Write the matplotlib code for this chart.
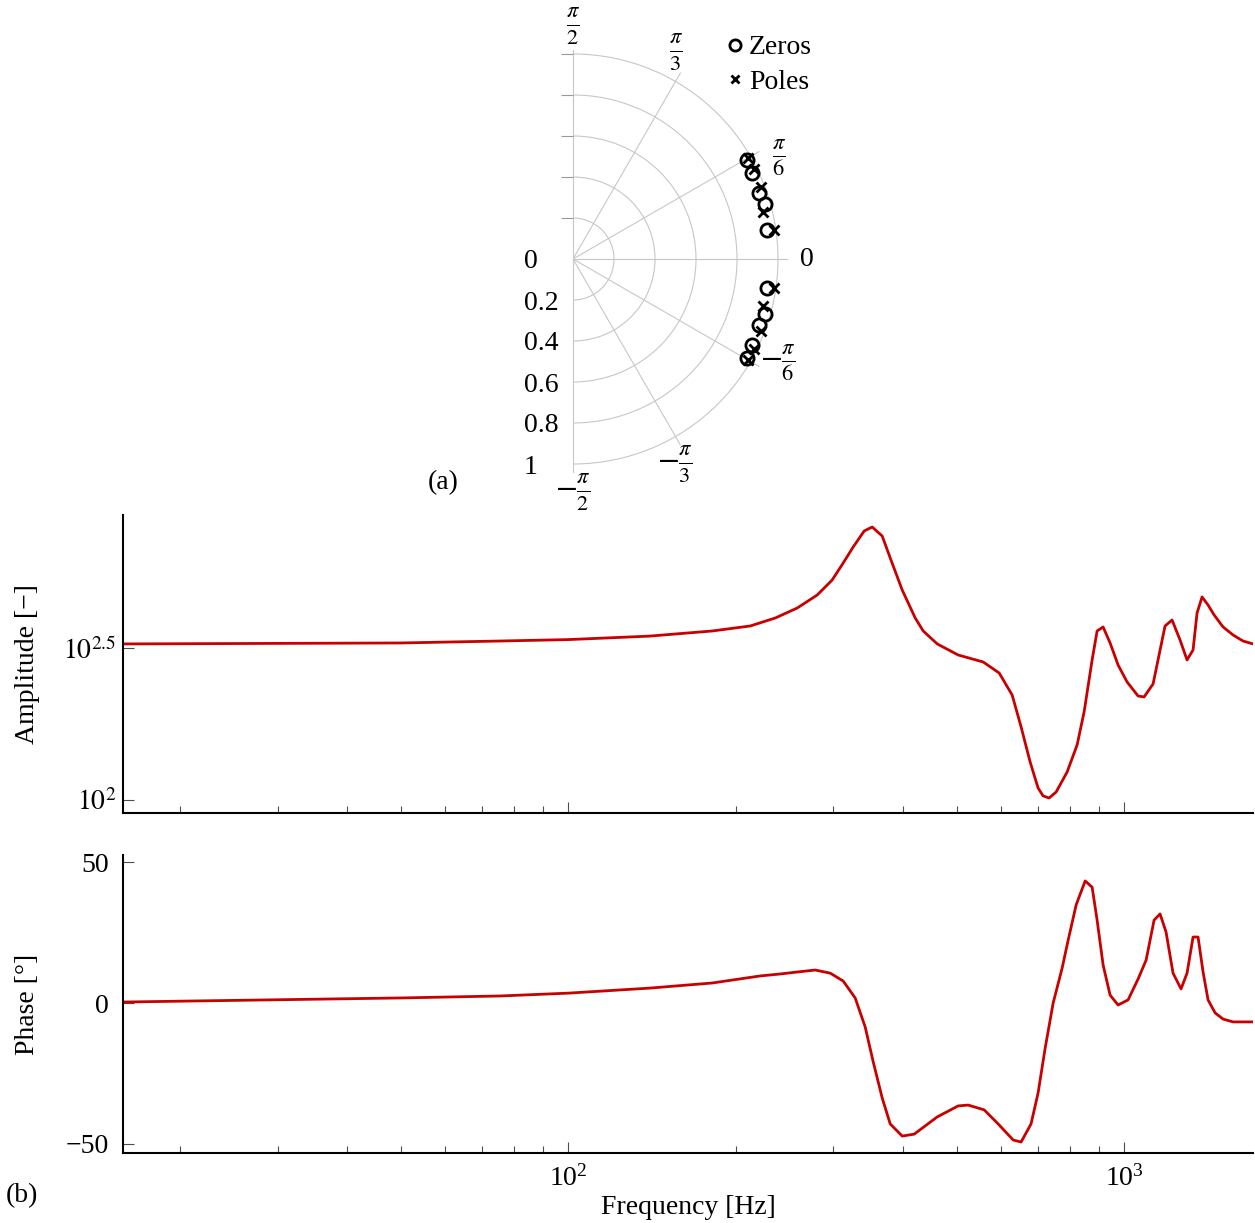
import numpy as np
import matplotlib
matplotlib.use("Agg")
import matplotlib.pyplot as plt
from matplotlib import transforms
from matplotlib.ticker import LogLocator, NullFormatter, NullLocator

plt.rcParams['font.family'] = ['Liberation Serif', 'DejaVu Serif']
plt.rcParams['mathtext.fontset'] = 'stix'
plt.rcParams['font.size'] = 20

# zeros and poles, upper half plane (lower half is the conjugate)
zero_angle_deg = [29.6, 25.5, 19.5, 16.1, 8.4]
zero_radius = [0.978, 0.970, 0.964, 0.975, 0.959]
pole_angle_deg = [30.0, 26.5, 21.0, 14.0, 8.1]
pole_radius = [0.985, 0.985, 0.984, 0.956, 0.990]

r_ticks = [0.2, 0.4, 0.6, 0.8, 1.0]
r_labels = ['0', '0.2', '0.4', '0.6', '0.8', '1']
theta_ticks_deg = [-90, -60, -30, 0, 30, 60, 90]
theta_labels = [r'$-\frac{\pi}{2}$', r'$-\frac{\pi}{3}$', r'$-\frac{\pi}{6}$', '0',
                r'$\frac{\pi}{6}$', r'$\frac{\pi}{3}$', r'$\frac{\pi}{2}$']

# frequency response
freq_amp = [15.8, 50, 75.5, 100, 140, 181.5, 212.5, 235.7, 258.2, 280.4, 298.4,
            312.3, 325.5, 340.7, 352.2, 367.1, 379.5, 398.8, 420.9, 435.1, 461.1,
            502.8, 557.8, 596.0, 628.9, 652.7, 677.5, 700.3, 715.0, 733.0, 754.6,
            789.8, 823.2, 847.4, 876.0, 894.3, 916.8, 943.7, 975.5, 1012.5, 1059.7,
            1086.4, 1127.7, 1185.0, 1219.9, 1261.0, 1298.1, 1330.8, 1353.1, 1381.4,
            1416.2, 1452.0, 1507.2, 1570.5, 1636.9, 1706.1]
amplitude = [326.1, 328.5, 333.4, 337.0, 346.0, 359.7, 373.6, 396.9, 428.1, 472.4, 529.4,
             602.0, 679.6, 767.2, 790.7, 738.5, 625.3, 490.7, 396.9, 359.7, 326.1,
             299.9, 284.4, 261.7, 221.5, 173.9, 133.4, 109.5, 103.1, 101.5, 106.2,
             123.6, 151.7, 194.8, 288.8, 359.7, 370.8, 328.5, 278.0, 244.5, 219.8,
             218.2, 240.8, 373.6, 390.9, 336.0, 288.8, 311.6, 412.2, 465.4,
             437.9, 406.1, 370.8, 349.0, 333.4, 326.1]

freq_phase = [15.8, 50, 75.5, 100, 140.4, 181.5, 221.4, 240.6, 258.2, 278.1, 295.9,
              312.3, 328.2, 342.1, 353.7, 367.1, 379.5, 398.8, 419.2, 461.1, 502.8,
              524.1, 560.1, 593.6, 631.7, 652.7, 680.1, 700.3, 721.1, 745.4, 773.7,
              793.2, 819.9, 851.1, 876.0, 894.3, 916.8, 943.7, 975.5, 1016.7, 1059.7,
              1095.5, 1132.4, 1160.7, 1189.9, 1224.9, 1266.2, 1298.1, 1330.8, 1358.7,
              1387.2, 1416.2, 1458.0, 1507.2, 1570.5, 1706.1]
phase = [0.35, 1.8, 2.5, 3.5, 5.3, 7.1, 9.6, 10.3, 11.0, 11.7, 10.6,
         7.8, 1.8, -8.5, -20.9, -33.7, -42.9, -47.2, -46.5, -40.4, -36.5,
         -36.2, -37.9, -42.9, -48.6, -49.3, -42.9, -31.9, -16.0, 0.0, 12.4,
         22.3, 34.8, 43.3, 41.1, 29.4, 13.5, 2.8, -0.7, 1.1, 8.5,
         15.2, 29.4, 31.6, 25.2, 10.6, 5.0, 10.6, 23.4, 23.4,
         11.0, 1.1, -3.5, -5.7, -6.7, -6.7]

W, H = 1255, 1223
fig = plt.figure(figsize=(W / 100, H / 100), dpi=100)


def px_rect(x0, y0, x1, y1):
    return [x0 / W, 1 - y1 / H, (x1 - x0) / W, (y1 - y0) / H]


# ---- (a) pole-zero map ----
rmax = 1.05
R = 205
cx, cy = 573, 259
half = rmax * R
grid_col = '0.78'
# square box, the half disc is centred in it
axp = fig.add_axes(px_rect(cx - half / 2, cy - half, cx + 1.5 * half, cy + half), projection='polar')
axp.set_thetamin(-90)
axp.set_thetamax(90)
axp.set_rlim(0, rmax)
axp.set_rticks(r_ticks)
axp.set_yticklabels([])
axp.set_thetagrids(theta_ticks_deg[1:-1], labels=[''] * (len(theta_ticks_deg) - 2))
axp.grid(color=grid_col, lw=0.8)
axp.tick_params(axis='both', length=0)
# start/end spines get switched back on at draw time for a wedge, so just make them invisible
for s in axp.spines.values():
    s.set_visible(False)
    s.set_linewidth(0)
# vertical axis line (theta = +-90)
axp.plot([np.pi / 2, np.pi / 2], [0, 1.02], color=grid_col, lw=0.8, clip_on=False)
axp.plot([-np.pi / 2, -np.pi / 2], [0, 1.04], color=grid_col, lw=0.8, clip_on=False)

off = transforms.offset_copy(axp.transData, fig=fig, x=-49, y=-3, units='dots')
for r, lab in zip([0] + r_ticks, r_labels):
    axp.text(-np.pi / 2, r, lab, transform=off, ha='left', va='center', clip_on=False)

axp.plot([np.pi / 2] * len(r_ticks), r_ticks, ls='none', marker=0, ms=8.5, mew=0.8,
         color='0.6', clip_on=False)

lab_angle = [-90, -63.7, -26.9, 0, 26.3, 63.4, 90]
lab_r = [1.14, 1.121, 1.121, 1.14, 1.121, 1.124, 1.13]
for a, r, lab in zip(lab_angle, lab_r, theta_labels):
    axp.text(np.deg2rad(a), r, lab, ha='center', va='center', clip_on=False,
             fontsize=20 if lab == '0' else 23)

th_z = np.deg2rad(zero_angle_deg + [-a for a in zero_angle_deg])
th_p = np.deg2rad(pole_angle_deg + [-a for a in pole_angle_deg])
axp.plot(th_z, zero_radius * 2, 'o', mfc='none', mec='k', ms=9.5, mew=2, label='Zeros', clip_on=False)
axp.plot(th_p, pole_radius * 2, 'x', color='k', ms=7.5, mew=2, label='Poles', clip_on=False)
axp.legend(loc='upper left', bbox_to_anchor=(728 / W, 1 - 35 / H), bbox_transform=fig.transFigure,
           frameon=False, handlelength=0.5, handletextpad=0.25, labelspacing=0.32,
           borderpad=0, borderaxespad=0, fontsize=20, markerscale=0.85)
fig.text(443 / W, 1 - 483 / H, '(a)', ha='center', va='center')

# ---- (b) bode plot ----
ax1 = fig.add_axes(px_rect(123, 515, 1253, 813))
ax2 = fig.add_axes(px_rect(123, 855, 1253, 1153))
red = '#c80000'
ax1.plot(freq_amp, amplitude, color=red, lw=2)
ax2.plot(freq_phase, phase, color=red, lw=2)

for ax in (ax1, ax2):
    ax.set_xscale('log')
    ax.set_xlim(15.8, 1706)
    ax.spines['top'].set_visible(False)
    ax.spines['right'].set_visible(False)
    ax.spines['left'].set_linewidth(1.5)
    ax.spines['bottom'].set_linewidth(1.5)
    ax.xaxis.set_minor_locator(LogLocator(base=10, subs=np.arange(2, 10)))
    ax.xaxis.set_minor_formatter(NullFormatter())
    ax.tick_params(which='both', direction='in', top=False, right=False, color='0.3', width=0.8)
    ax.tick_params(which='major', length=8)
    ax.tick_params(which='minor', length=5)
    ax.tick_params(axis='x', pad=9)

ax1.set_yscale('log')
ax1.set_ylim(90.6, 866)
ax1.set_yticks([100, 10 ** 2.5])
ax1.set_yticklabels([r'$10^{2}$', r'$10^{2.5}$'])
ax1.yaxis.set_minor_locator(NullLocator())
ax1.tick_params(axis='y', pad=5)
ax1.tick_params(labelbottom=False)
ax1.set_ylabel('Amplitude [\u2212]')

ax2.set_ylim(-53.2, 52.5)
ax2.set_yticks([-50, 0, 50])
ax2.tick_params(axis='y', pad=10)
ax2.set_ylabel('Phase [\u00b0]')
ax2.set_xlabel('Frequency [Hz]')

for ax in (ax1, ax2):
    ax.yaxis.label.set_va('center')
    ax.yaxis.set_label_coords((28 - 123) / 1130, 0.5)
ax2.xaxis.label.set_va('center')
ax2.xaxis.set_label_coords(0.5, (1153 - 1208) / 298)

fig.text(22 / W, 1 - 1196 / H, '(b)', ha='center', va='center')

fig.savefig('out.png', dpi=100)
